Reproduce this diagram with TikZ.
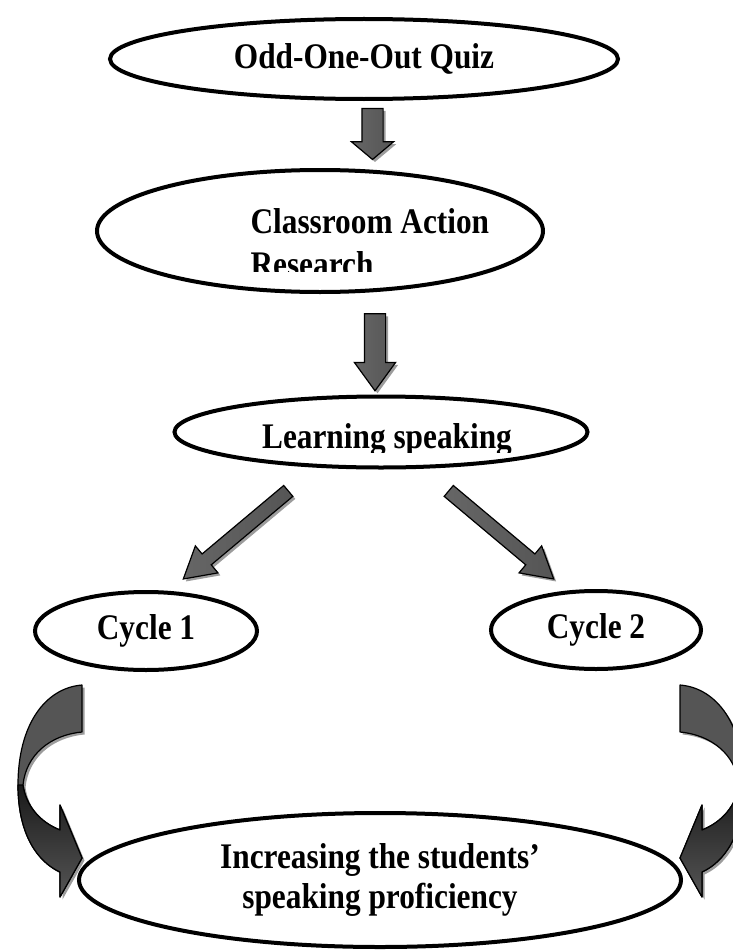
\documentclass[tikz,border=0pt]{standalone}
\usepackage{fontspec}
\setmainfont{Liberation Serif}[FakeStretch=0.87]
\usepackage{tikz}
\usetikzlibrary{shapes.geometric,shapes.arrows,shadows}

\definecolor{arrdark}{HTML}{1A1A1A}
\definecolor{arrmid}{HTML}{555555}
\definecolor{arrshade}{HTML}{9C9C9C}

\begin{document}
\begin{tikzpicture}[
  x=1pt, y=-1pt,
  every node/.style={font=\fontsize{36}{40}\selectfont\bfseries},
  oval/.style={draw, ellipse, line width=4pt, inner sep=0pt},
  blockarr/.style={single arrow, draw=black, line width=1.2pt, inner xsep=0pt,
                   single arrow head indent=0pt,
                   left color=arrmid!90, middle color=arrdark, right color=arrmid,
                   drop shadow={shadow xshift=2.5pt, shadow yshift=-2.5pt,
                                fill=arrshade, opacity=1}},
  outline/.style={draw=black, line width=1.2pt, line join=round},
]
  \useasboundingbox (0,0) rectangle (732,950);

  % Ovals
  \node[oval, minimum width=508pt, minimum height=80pt] (quiz) at (364,59) {Odd-One-Out Quiz};
  \node[oval, minimum width=446pt, minimum height=122pt] (car) at (320,231) {};
  \node[oval, minimum width=413pt, minimum height=71pt] (learn) at (381,432) {};
  \node[oval, minimum width=222pt, minimum height=78pt] (cyc1) at (146,631) {Cycle 1};
  \node[oval, minimum width=210pt, minimum height=78pt] (cyc2) at (596,630) {Cycle 2};
  \node[oval, minimum width=602pt, minimum height=134pt, align=center] (goal) at (380,880)
    {Increasing the students’\\speaking proficiency};

  % Texts cut off at the bottom
  \begin{scope}
    \clip (0,0) rectangle (732,271);
    \node[anchor=base west] (carA) at (247,233) {Classroom Action};
    \node[anchor=base west] (carB) at (247,276) {Research};
  \end{scope}
  \begin{scope}
    \clip (0,0) rectangle (732,452);
    \node[anchor=base] (learnT) at (387,448) {Learning speaking};
  \end{scope}

  % Block arrows
  \node[blockarr, rotate=-90, minimum height=51pt, inner ysep=10pt,
        single arrow head extend=10.5pt, single arrow tip angle=100] (a1) at (372.5,129.5) {};
  \node[blockarr, rotate=-90, minimum height=77pt, inner ysep=10pt,
        single arrow head extend=10pt, single arrow tip angle=72] (a2) at (375,345) {};
  \node[blockarr, rotate=220, minimum height=137pt, inner ysep=6.5pt,
        single arrow head extend=10.5pt, single arrow tip angle=60] (a3) at (240.5,531) {};
  \node[blockarr, rotate=-40, minimum height=137pt, inner ysep=6.5pt,
        single arrow head extend=10.5pt, single arrow tip angle=60] (a4) at (496.5,531) {};

  % Curved arrows into the goal
  \foreach \s/\o in {1/0,-1/762} {
    \begin{scope}[shift={(\o,0)}, xscale=\s]
      \draw[outline, fill=arrmid,
            preaction={fill=arrshade, transform canvas={xshift=2.5pt, yshift=-2.5pt}}]
        (82,685) .. controls (45,688) and (18,725) .. (18,785)
        .. controls (18,835) and (38,862) .. (60,872)
        -- (60,897) -- (82,858) -- (60,805) -- (60,830)
        .. controls (40,822) and (26,806) .. (23,785)
        .. controls (26,755) and (50,735) .. (82,732) -- cycle;
      \shade[outline, top color=arrdark, bottom color=arrmid]
        (18,785) .. controls (18,835) and (38,862) .. (60,872)
        -- (60,897) -- (82,858) -- (60,805) -- (60,830)
        .. controls (40,822) and (26,806) .. (23,785) -- cycle;
    \end{scope}
  }
\end{tikzpicture}
\end{document}
